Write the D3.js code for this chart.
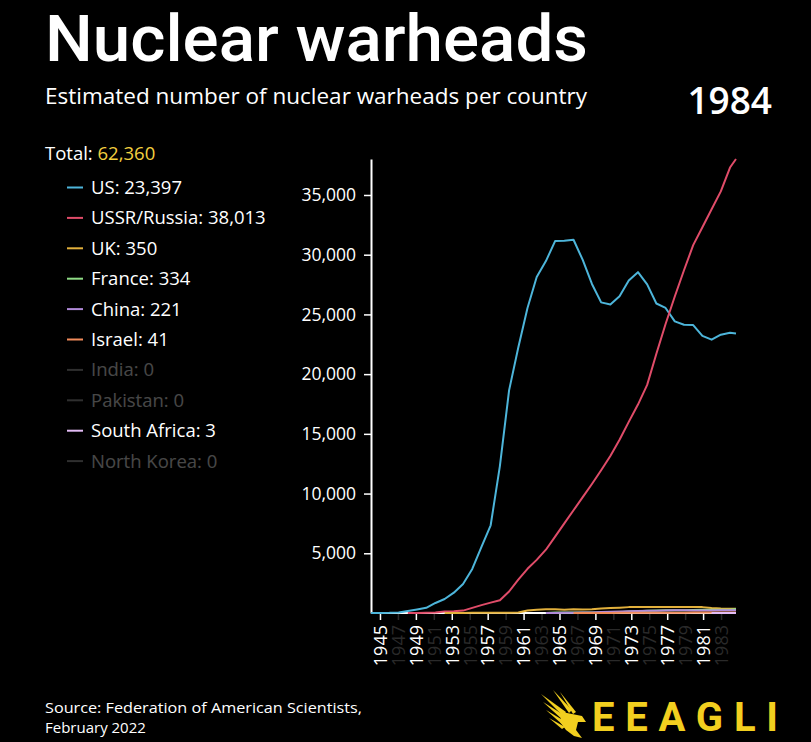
<!DOCTYPE html>
<html>
<head>
<meta charset="utf-8">
<script src="https://cdn.jsdelivr.net/npm/d3@7"></script>
<style>
  body { margin: 0; background: #000; }
  svg { display: block; }
  text { font-family: "Open Sans", "Noto Sans", sans-serif; }
</style>
</head>
<body>
<svg id="chart" width="811" height="742"></svg>
<script>
// ---------------- DATA ----------------
const years = [1945,1946,1947,1948,1949,1950,1951,1952,1953,1954,1955,1956,1957,1958,1959,
  1960,1961,1962,1963,1964,1965,1966,1967,1968,1969,1970,1971,1972,1973,1974,1975,1976,
  1977,1978,1979,1980,1981,1982,1983,1984];
const currentTime = 1984.65;   // animation frame position
const currentLabel = "1984";

const countries = ["US","USSR/Russia","UK","France","China","Israel","India","Pakistan","South Africa","North Korea"];

const usValues = [2,9,13,50,170,299,438,841,1169,1703,2422,3692,5543,7345,12298,18638,22229,
  25540,28133,29463,31139,31175,31255,29561,27552,26008,25830,26516,27835,28537,27519,25914,
  25542,24418,24138,24104,23208,22886,23305,23459];
const ussrValues = [null,null,null,null,1,5,25,50,120,150,200,426,660,869,1060,1800,2800,3700,
  4450,5300,6400,7500,8600,9700,10800,11950,13150,14500,16000,17450,19100,21700,24200,26500,
  28700,30800,32300,33800,35300,37300];
const ukValues = [null,null,null,null,null,null,null,null,1,5,10,15,20,22,25,30,50,205,280,310,
  310,270,320,300,308,375,420,450,492,492,492,492,492,492,492,492,492,420,370,350];
const franceValues = [null,null,null,null,null,null,null,null,null,null,null,null,null,null,null,
  null,null,null,null,4,32,36,36,36,36,36,45,70,116,145,188,212,228,235,235,250,274,274,279,280];
const chinaValues = [null,null,null,null,null,null,null,null,null,null,null,null,null,null,null,
  null,null,null,null,1,5,20,25,35,50,75,100,130,150,170,185,190,200,220,235,205,210,215,220,220];
const israelValues = [null,null,null,null,null,null,null,null,null,null,null,null,null,null,null,
  null,null,null,null,null,null,null,2,4,6,8,10,12,14,16,18,20,23,26,29,32,35,37,39,40];
const indiaValues = years.map(() => null);
const pakistanValues = years.map(() => null);
const southAfricaValues = [null,null,null,null,null,null,null,null,null,null,null,null,null,null,
  null,null,null,null,null,null,null,null,null,null,null,null,null,null,null,null,null,null,null,
  null,null,null,null,1,2,3];
const northKoreaValues = years.map(() => null);

// values at the current animation frame (shown in legend)
const currentValues = [23397, 38013, 350, 334, 221, 41, 0, 0, 3, 0];
const totalValue = 62360;

const seriesValues = [usValues, ussrValues, ukValues, franceValues, chinaValues, israelValues,
  indiaValues, pakistanValues, southAfricaValues, northKoreaValues];

const yTickValues = [5000,10000,15000,20000,25000,30000,35000];
const xTickYears = [1945,1947,1949,1951,1953,1955,1957,1959,1961,1963,1965,1967,1969,1971,1973,
  1975,1977,1979,1981,1983];
const brightTickYears = [1945,1949,1953,1957,1961,1965,1969,1973,1977,1981];

const colors = ["#4db5da","#e04c69","#e2b03c","#8fdc86","#b08ad8","#f08b5b","#5a5a5a","#6b5a48","#e3bcf5","#5e4040"];

// ---------------- CHART ----------------
const svg = d3.select("#chart");
svg.append("rect").attr("width", 811).attr("height", 742).attr("fill", "#000");

const fmt = d3.format(",");

// Title
svg.append("text").attr("x", 45).attr("y", 60.5)
  .attr("fill", "#fff").attr("font-size", 64).attr("font-weight", 500)
  .style("font-family", "Roboto, sans-serif")
  .attr("textLength", 543).attr("lengthAdjust", "spacingAndGlyphs")
  .text("Nuclear warheads");

svg.append("text").attr("x", 45).attr("y", 104)
  .attr("fill", "#fff").attr("font-size", 21).attr("font-weight", 500)
  .attr("textLength", 542).attr("lengthAdjust", "spacingAndGlyphs")
  .text("Estimated number of nuclear warheads per country");

svg.append("text").attr("x", 772).attr("y", 114)
  .attr("fill", "#fff").attr("font-size", 37).attr("font-weight", 600)
  .attr("text-anchor", "end").text(currentLabel);

// Scales
const xLine = d3.scaleLinear().domain([years[0], currentTime]).range([371, 736]);
const xTick = d3.scaleLinear().domain([1944, 1985]).range([371, 739]);
const maxVal = d3.max(currentValues.concat(seriesValues.flat().filter(v => v != null)));
const y = d3.scaleLinear().domain([0, maxVal]).range([613, 159]);

// Y axis
const yAxis = svg.append("g").attr("transform", "translate(371,0)")
  .call(d3.axisLeft(y).tickValues(yTickValues).tickFormat(fmt).tickSize(7).tickSizeOuter(0).tickPadding(8));
yAxis.select(".domain").attr("stroke", "#fff").attr("stroke-width", 2);
yAxis.selectAll(".tick line").attr("stroke", "#fff").attr("stroke-width", 1.5);
yAxis.selectAll(".tick text").attr("fill", "#fff").attr("font-size", 17.5).attr("font-weight", 500)
  .style("font-family", '"Open Sans", sans-serif');

// X axis
const xAxis = svg.append("g").attr("transform", "translate(0,613)")
  .call(d3.axisBottom(xTick).tickValues(xTickYears).tickFormat(d => String(d)).tickSize(7).tickSizeOuter(0));
xAxis.select(".domain").remove();
xAxis.selectAll(".tick line")
  .attr("stroke", d => brightTickYears.includes(d) ? "#fff" : "#2a2a2a").attr("stroke-width", 1.5);
xAxis.selectAll(".tick text")
  .attr("fill", d => brightTickYears.includes(d) ? "#fff" : "#2a2a2a")
  .attr("font-size", 18).attr("font-weight", 500)
  .style("font-family", '"Open Sans", sans-serif')
  .attr("transform", "rotate(-90)")
  .attr("x", -12).attr("y", 0).attr("dy", "0.35em")
  .style("text-anchor", "end");

// X axis domain line
svg.append("line")
  .attr("x1", 371).attr("x2", 736).attr("y1", 613).attr("y2", 613)
  .attr("stroke", "#fff").attr("stroke-width", 2);

// Lines
const line = d3.line()
  .defined(d => d.v != null)
  .x(d => xLine(d.t))
  .y(d => y(d.v));

const linesG = svg.append("g");
seriesValues.forEach((vals, i) => {
  if (vals.every(v => v == null)) return;
  const pts = years.map((t, j) => ({ t, v: vals[j] }));
  pts.push({ t: currentTime, v: currentValues[i] });
  linesG.append("path").datum(pts)
    .attr("fill", "none").attr("stroke", colors[i]).attr("stroke-width", 2)
    .attr("stroke-linejoin", "round")
    .attr("d", line);
});

// Legend
const totalT = svg.append("text").attr("x", 45).attr("y", 160).attr("font-size", 18.5).attr("font-weight", 500);
totalT.append("tspan").attr("fill", "#fff").text("Total: ");
totalT.append("tspan").attr("fill", "#f3cf3f").text(fmt(totalValue));

const legend = svg.append("g");
countries.forEach((c, i) => {
  const cy = 187.5 + i * 30.4;
  const active = currentValues[i] > 0;
  const g = legend.append("g").attr("opacity", active ? 1 : 0.28);
  g.append("line").attr("x1", 67).attr("x2", 83).attr("y1", cy).attr("y2", cy)
    .attr("stroke", active ? colors[i] : "#aaa").attr("stroke-width", 2);
  g.append("text").attr("x", 91).attr("y", cy + 6.5).attr("font-size", 18.5).attr("font-weight", 500)
    .attr("fill", "#fff").text(c + ": " + fmt(currentValues[i]));
});

// Source
svg.append("text").attr("x", 45).attr("y", 713).attr("font-size", 15).attr("font-weight", 500).attr("fill", "#fff")
  .attr("textLength", 317).attr("lengthAdjust", "spacingAndGlyphs")
  .text("Source: Federation of American Scientists,");
svg.append("text").attr("x", 45).attr("y", 733).attr("font-size", 15).attr("font-weight", 500).attr("fill", "#fff")
  .text("February 2022");

// Logo
const logo = svg.append("g").attr("fill", "#f2cf1f");
const feathers = [
  [[541,694],[566,712],[563,716]],
  [[543,702],[567,717],[564,721]],
  [[546,710],[566,722],[563,725]],
  [[549,718],[565,727],[562,729]],
  [[553,690],[572,710],[569,713]],
  [[560,692],[576,712],[573,714]]
];
feathers.forEach(p => logo.append("polygon").attr("points", p.map(q => q.join(",")).join(" ")));
logo.append("path").attr("d", "M562,712 L582,716 L586,722 L578,722 L576,730 L582,738 L574,736 L566,730 L560,722 Z");
logo.append("text").attr("x", 592).attr("y", 731).attr("font-size", 40).attr("font-weight", 700)
  .style("font-family", "Roboto, sans-serif")
  .attr("textLength", 186).attr("lengthAdjust", "spacing")
  .text("EEAGLI");
</script>
</body>
</html>
